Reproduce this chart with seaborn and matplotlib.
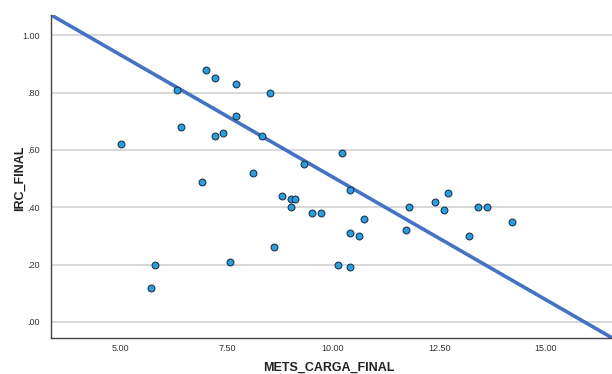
import numpy as np
import pandas as pd
import matplotlib.pyplot as plt
import seaborn as sns

# Data
mets_carga = [5.02, 6.32, 6.42, 7.01, 7.22, 7.22, 7.42, 7.72, 7.72, 8.52,
              8.32, 8.12, 9.31, 6.91, 10.21, 8.81, 9.01, 9.11, 9.01, 9.51,
              9.72, 8.61, 7.57, 5.81, 5.72, 10.41, 10.72, 10.41, 10.62, 10.12,
              10.41, 11.71, 11.80, 12.41, 12.61, 12.71, 13.21, 13.42, 13.62, 14.21]
irc = [0.62, 0.81, 0.68, 0.88, 0.85, 0.65, 0.66, 0.83, 0.72, 0.80,
       0.65, 0.52, 0.55, 0.49, 0.59, 0.44, 0.43, 0.43, 0.40, 0.38,
       0.38, 0.26, 0.21, 0.20, 0.12, 0.46, 0.36, 0.31, 0.30, 0.20,
       0.19, 0.32, 0.40, 0.42, 0.39, 0.45, 0.30, 0.40, 0.40, 0.35]

# fit line as drawn (intercept, slope)
fit_intercept = 1.358
fit_slope = -0.0853

x_ticks = [5.0, 7.5, 10.0, 12.5, 15.0]
y_ticks = [0.0, 0.2, 0.4, 0.6, 0.8, 1.0]
x_lim = (3.36, 16.57)
y_lim = (-0.056, 1.071)

data = pd.DataFrame({'METS_CARGA_FINAL': mets_carga, 'IRC_FINAL': irc})

sns.set_style('white')
plt.rcParams['font.family'] = ['Liberation Sans', 'DejaVu Sans']

fig = plt.figure(figsize=(6.12, 3.74), dpi=100)
ax = fig.add_axes([0.0833, 0.0963, 0.9167, 0.8636])

for yt in y_ticks:
    ax.axhline(yt, color='#d6d6d6', lw=1.3, zorder=0)

line_x = np.array(x_lim)
line_df = pd.DataFrame({'x': line_x, 'y': fit_intercept + fit_slope * line_x})
sns.lineplot(data=line_df, x='x', y='y', color='#4472c4', lw=2.6, ax=ax, zorder=2)

sns.scatterplot(data=data, x='METS_CARGA_FINAL', y='IRC_FINAL', s=24,
                color='#2a9fe0', edgecolor='#1f3650', linewidth=0.8, ax=ax, zorder=3)

ax.set_xlim(*x_lim)
ax.set_ylim(*y_lim)
ax.set_xticks(x_ticks)
ax.set_yticks(y_ticks)
ax.set_xticklabels([f'{v:.2f}' for v in x_ticks])
ax.set_yticklabels([f'{v:.2f}'.lstrip('0') if v < 1 else f'{v:.2f}' for v in y_ticks])
ax.tick_params(axis='x', length=0, labelsize=6.5, labelcolor='#333333', pad=4)
ax.tick_params(axis='y', length=0, labelsize=6.5, labelcolor='#333333', pad=8)

sns.despine(ax=ax)
ax.spines['left'].set_color('#444444')
ax.spines['bottom'].set_color('#444444')
ax.spines['left'].set_linewidth(1.0)
ax.spines['bottom'].set_linewidth(1.0)

ax.set_xlabel('METS_CARGA_FINAL', fontsize=9, fontweight='bold', color='#222222')
ax.set_ylabel('IRC_FINAL', fontsize=9, fontweight='bold', color='#222222')
ax.xaxis.set_label_coords(0.496, -0.074)
ax.yaxis.set_label_coords(-0.045, 0.495)

fig.savefig('out.png', dpi=100)
